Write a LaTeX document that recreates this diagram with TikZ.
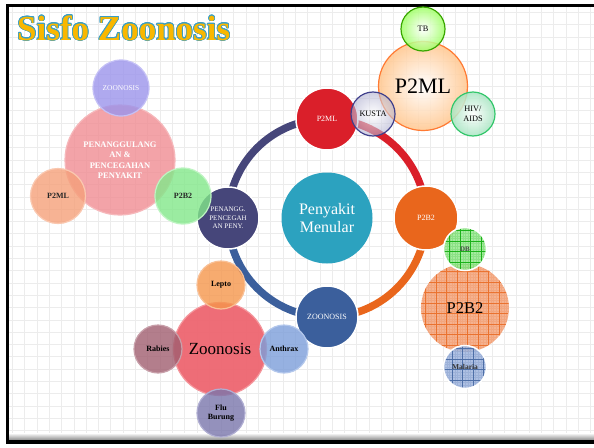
\documentclass[tikz,border=0pt]{standalone}
\usepackage{fontspec}
\setmainfont{Liberation Serif}
\usepackage{contour}
\usepackage{tikz}
\usetikzlibrary{positioning,backgrounds}
\contourlength{0.7pt}

\definecolor{titlefill}{HTML}{F9B700}
\definecolor{titleline}{HTML}{3A9FC6}
\definecolor{gridgray}{HTML}{ECECEC}
\definecolor{ringred}{HTML}{DA1F2A}
\definecolor{ringorange}{HTML}{E9661C}
\definecolor{ringblue}{HTML}{3B5F9C}
\definecolor{ringnavy}{HTML}{46467A}
\definecolor{hubteal}{HTML}{2CA2BF}

\tikzstyle{thub}=[circle,draw=white,line width=1.5pt,inner sep=0pt,minimum size=62pt,text=white,align=center,font=\fontsize{8}{9}\selectfont]
\tikzstyle{tarc}=[line width=7.5pt]
\tikzstyle{tbubble}=[circle,inner sep=0pt,align=center,line width=1.2pt,fill opacity=0.8,text opacity=1,font=\fontsize{8}{9.5}\selectfont\bfseries]
\tikzstyle{tglass}=[circle,inner sep=0pt,align=center,line width=1.2pt,fill opacity=0.85,text opacity=1,font=\fontsize{8.3}{10}\selectfont]
\tikzset{thatch/.style={circle,inner sep=0pt,align=center,fill opacity=0.9,text opacity=1,
  path picture={\draw[#1,line width=0.5pt,opacity=0.8,step=10.5pt] (path picture bounding box.south west) grid (path picture bounding box.north east);
                \draw[#1,line width=0.2pt,opacity=0.15,step=2.6pt] (path picture bounding box.south west) grid (path picture bounding box.north east);}}}

\begin{document}
\begin{tikzpicture}[x=1pt,y=-1pt]
  \useasboundingbox (0,0) rectangle (594,447);

  % slide background and frame
  \begin{scope}[on background layer]
    \fill[white] (0,0) rectangle (594,447);
    \draw[gridgray,line width=0.5pt,step=12.3pt] (9,7) grid (594,440);
    \shade[top color=white,bottom color=black!45] (9,433) rectangle (594,440);
    \fill[black] (6,4) rectangle (594,7);
    \fill[black] (6,4) rectangle (9,444);
    \fill[black] (6,440) rectangle (594,444);
  \end{scope}

  \node[anchor=base west,inner sep=0pt,font=\fontsize{35}{40}\selectfont\bfseries] (title) at (17,40)
    {\contour{titleline}{\textcolor{titlefill}{Sisfo Zoonosis}}};

  % ring
  \node[thub,fill=ringred] (p2ml) at (327,119) {P2ML};
  \node[thub,fill=ringorange,minimum size=64pt] (p2b2) at (426,218) {P2B2};
  \node[thub,fill=ringblue] (zoo) at (327,317) {ZOONOSIS};
  \node[thub,fill=ringnavy,font=\fontsize{7}{8.5}\selectfont] (peny) at (228,218) {PENANGG.\\PENCEGAH\\AN PENY.};

  \begin{scope}[on background layer]
    \draw[tarc,ringred] (p2ml.center) arc[start angle=-90,end angle=0,radius=99];
    \draw[tarc,ringorange] (p2b2.center) arc[start angle=0,end angle=90,radius=99];
    \draw[tarc,ringblue] (zoo.center) arc[start angle=90,end angle=180,radius=99];
    \draw[tarc,ringnavy] (peny.center) arc[start angle=180,end angle=270,radius=99];
  \end{scope}

  \node[circle,fill=hubteal,minimum size=91pt,inner sep=0pt,text=white,align=center,
        font=\fontsize{16}{18}\selectfont] (pm) at (327,218) {Penyakit\\Menular};

  % P2ML cluster
  \node[tglass,shade,inner color=white,outer color=orange!45,draw=orange!70!red!80,minimum size=89pt,
        font=\fontsize{22}{24}\selectfont] (bigml) at (423,86) {P2ML};
  \node[tglass,shade,inner color=white,outer color=green!50!lime!60,draw=green!50!black!70!lime,minimum size=44pt] (tb) at (423,29) {TB};
  \node[tglass,shade,inner color=white,outer color=blue!25!gray!50,draw=blue!40!black!75,fill opacity=0.6,minimum size=44pt] (kusta) at (373,114) {KUSTA};
  \node[tglass,shade,inner color=white,outer color=green!40!teal!35,draw=green!45!teal!80,minimum size=44pt] (hiv) at (473,114) {HIV/\\AIDS};

  % penanggulangan cluster
  \node[tbubble,fill={rgb,255:red,240;green,140;blue,147},draw={rgb,255:red,246;green,184;blue,187},minimum size=110pt,
        text=white,font=\fontsize{8.5}{10.5}\selectfont\bfseries] (pencegah) at (120,160) {PENANGGULANG\\AN \&\\PENCEGAHAN\\PENYAKIT};
  \node[tbubble,fill={rgb,255:red,155;green,148;blue,236},draw={rgb,255:red,196;green,192;blue,246},minimum size=56pt,
        text=white,font=\fontsize{7.4}{9}\selectfont] (lzoo) at (121,88) {ZOONOSIS};
  \node[tbubble,fill={rgb,255:red,245;green,160;blue,122},draw={rgb,255:red,250;green,200;blue,176},minimum size=55pt,
        text=black!85] (lp2ml) at (58,196) {P2ML};
  \node[tbubble,fill={rgb,255:red,130;green,232;blue,138},draw={rgb,255:red,190;green,244;blue,194},minimum size=56pt,
        text=black!85] (lp2b2) at (183,196) {P2B2};

  % P2B2 cluster
  \node[thatch=ringorange,fill={rgb,255:red,244;green,170;blue,132},minimum size=88pt,
        font=\fontsize{16.5}{18}\selectfont] (bigb2) at (465,308) {P2B2};
  \node[thatch=green!65!black,fill={rgb,255:red,156;green,234;blue,148},draw=white,line width=1.5pt,minimum size=43pt,
        font=\fontsize{7}{8}\selectfont\bfseries,text=black!70] (db) at (465,249) {DB};
  \node[thatch=ringblue,fill={rgb,255:red,166;green,186;blue,224},draw=white,line width=1.5pt,minimum size=43pt,
        font=\fontsize{7.5}{9}\selectfont\bfseries,text=black!80] (malaria) at (465,367) {Malaria};

  % zoonosis cluster
  \node[tbubble,fill={rgb,255:red,238;green,102;blue,112},draw={rgb,255:red,244;green,150;blue,156},fill opacity=0.95,minimum size=93pt,
        font=\fontsize{17}{19}\selectfont,text=black] (bigzoo) at (220,349) {Zoonosis};
  \node[tbubble,fill={rgb,255:red,245;green,150;blue,76},draw={rgb,255:red,249;green,192;blue,150},minimum size=48pt] (lepto) at (221,285) {Lepto};
  \node[tbubble,fill={rgb,255:red,160;green,94;blue,112},draw={rgb,255:red,200;green,160;blue,170},minimum size=48pt] (rabies) at (158,349) {Rabies};
  \node[tbubble,fill={rgb,255:red,124;green,158;blue,218},draw={rgb,255:red,180;green,200;blue,236},minimum size=48pt] (anthrax) at (284,349) {Anthrax};
  \node[tbubble,fill={rgb,255:red,122;green,118;blue,172},draw={rgb,255:red,176;green,174;blue,210},minimum size=48pt] (flu) at (221,413) {Flu\\Burung};

\end{tikzpicture}
\end{document}
